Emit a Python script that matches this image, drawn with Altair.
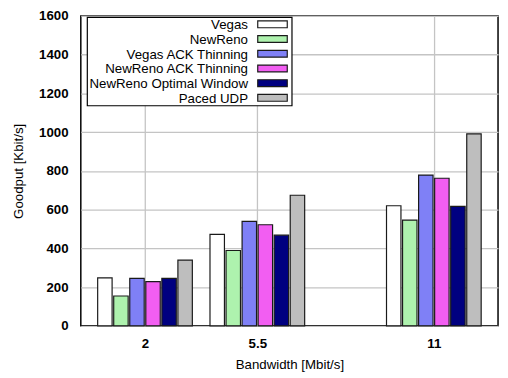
import altair as alt
import pandas as pd

# ---- data ----
bandwidths = [2, 5.5, 11]
series = ["Vegas", "NewReno", "Vegas ACK Thinning", "NewReno ACK Thinning",
          "NewReno Optimal Window", "Paced UDP"]
vegas = [248, 472, 620]
newreno = [154, 389, 546]
vegas_ack = [245, 539, 778]
newreno_ack = [228, 522, 762]
newreno_opt = [245, 468, 617]
paced_udp = [339, 674, 991]
colors = ["#ffffff", "#aef2ae", "#7f80f6", "#f25ef2", "#000080", "#bebebe"]
y_ticks = [0, 200, 400, 600, 800, 1000, 1200, 1400, 1600]

values = [vegas, newreno, vegas_ack, newreno_ack, newreno_opt, paced_udp]
rows = []
for i, (name, vals) in enumerate(zip(series, values)):
    for bw, v in zip(bandwidths, vals):
        rows.append({"bw": bw, "series": name, "idx": i, "val": v})
df = pd.DataFrame(rows)
legend_df = pd.DataFrame({"series": series, "idx": list(range(len(series)))})

FONT = "Liberation Sans"
color_scale = alt.Scale(domain=series, range=colors)

bars = alt.Chart(df).mark_bar(stroke="#1a1a1a", strokeWidth=1.2).transform_calculate(
    x0="datum.bw + (datum.idx - 2.5) * 0.5 - 0.225",
    x1="datum.bw + (datum.idx - 2.5) * 0.5 + 0.225",
).encode(
    x=alt.X("x0:Q", scale=alt.Scale(domain=[0, 13], nice=False, zero=False),
            axis=alt.Axis(values=bandwidths, labelExpr="'' + datum.value",
                          title="Bandwidth [Mbit/s]",
                          grid=True, gridColor="#c4c4c4", gridWidth=1.3,
                          ticks=False, domain=False, labelPadding=11,
                          labelFontWeight="bold", labelFontSize=13.5, labelColor="black",
                          labelFont=FONT, titleFont=FONT, titleFontSize=13.5,
                          titleFontWeight="normal", titleColor="black", titlePadding=8)),
    x2="x1:Q",
    y=alt.Y("val:Q", scale=alt.Scale(domain=[0, 1600], nice=False),
            axis=alt.Axis(values=y_ticks, format="d", title="Goodput [Kbit/s]",
                          grid=True, gridColor="#c4c4c4", gridWidth=1.3,
                          ticks=False, domain=False, labelPadding=13,
                          labelFontWeight="bold", labelFontSize=13.5, labelColor="black",
                          labelFont=FONT, titleFont=FONT, titleFontSize=13.5,
                          titleFontWeight="normal", titleColor="black", titlePadding=13)),
    y2=alt.datum(0),
    fill=alt.Fill("series:N", scale=color_scale, legend=None),
)

box = alt.Chart(pd.DataFrame({"a": [0]})).mark_rect(
    fill="white", stroke="black", strokeWidth=1.2
).encode(
    x=alt.value(6.6), x2=alt.value(214.6), y=alt.value(1.6), y2=alt.value(91.3)
)

leg_y = alt.Y("series:N", sort=series,
              scale=alt.Scale(type="point", range=[8.6, 83.3], padding=0), axis=None)

symbols = alt.Chart(legend_df).mark_point(
    shape="M-1,-0.23H1V0.23H-1Z", size=900, filled=True, opacity=1,
    stroke="#1a1a1a", strokeWidth=1.2
).encode(
    x=alt.value(194.8),
    y=leg_y,
    fill=alt.Fill("series:N", scale=color_scale, legend=None),
)

labels = alt.Chart(legend_df).mark_text(
    align="right", baseline="middle", dy=1, font=FONT, fontSize=13.5, color="black"
).encode(
    x=alt.value(169.9),
    y=leg_y,
    text="series:N",
)

chart = alt.layer(bars, box, symbols, labels).resolve_scale(
    x="independent", y="independent"
).properties(
    width=424, height=315,
    padding={"left": 74, "top": 5, "right": 2, "bottom": 50},
    autosize=alt.AutoSizeParams(type="none"),
).configure_view(stroke="black", strokeWidth=1.5)

chart.save("out.html", embed_options={"renderer": "svg", "actions": False})
